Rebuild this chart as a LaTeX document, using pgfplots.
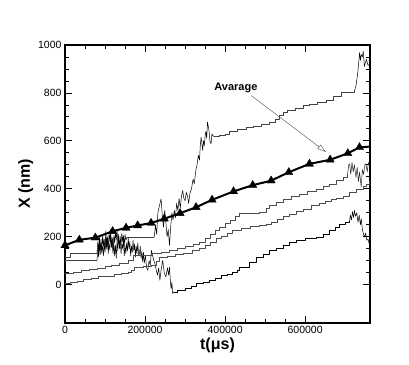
\documentclass[border=0pt]{standalone}
\usepackage{pgfplots}
\pgfplotsset{compat=1.18}
\usepackage{fontspec}
\setmainfont{Liberation Sans}
\usetikzlibrary{arrows.meta}
\begin{document}
\begin{tikzpicture}
\path[use as bounding box] (-65pt,-41pt) rectangle (344pt,323pt);
\begin{axis}[
  at={(0,0)}, anchor=south west,
  scale only axis, width=305pt, height=278pt,
  xmin=0, xmax=762000, ymin=-160, ymax=1000,
  xtick={0,200000,400000,600000},
  ytick={0,200,400,600,800,1000},
  minor x tick num=3, minor y tick num=3,
  scaled x ticks=false, scaled y ticks=false,
  /pgf/number format/fixed, /pgf/number format/1000 sep={},
  /pgf/number format/assume math mode=true,
  tick label style={font=\fontsize{10.5}{12}\selectfont},
  major tick length=7pt, minor tick length=4pt,
  axis line style={line width=1.2pt},
  tick style={line width=0.8pt, black},
  xlabel={\textbf{t(μs)}}, ylabel={\textbf{X (nm)}},
  label style={font=\fontsize{16}{19}\selectfont\bfseries},
  xlabel style={yshift=3pt},
  ylabel style={yshift=-2pt},
  clip=true,
  every axis plot/.append style={line join=round},
]
% ---------- Curve A (top) ----------
\addplot[const plot, black!75, line width=0.5pt] coordinates {(0,115)(12000,133)(80000,133)};
\addplot[sharp plot, black, line width=0.5pt] coordinates {
(80000,133)(82000,180)(84000,140)(86000,200)(88000,150)(90000,175)(92000,130)(94000,210)(96000,160)(98000,190)(100000,145)(102000,225)(104000,170)(106000,200)(108000,150)(110000,215)(112000,180)(114000,230)(116000,160)(118000,195)(120000,140)(122000,205)(124000,175)(126000,220)(128000,185)(130000,230)(132000,170)(134000,210)(136000,150)(138000,200)(140000,165)(142000,215)(144000,180)(146000,205)(148000,160)(150000,210)(152000,185)(155000,198)};
\addplot[const plot, black!75, line width=0.5pt] coordinates {(155000,198)(223000,198)};
\addplot[sharp plot, black, line width=0.5pt] coordinates {
(223000,198)(226000,250)(229000,210)(232000,300)(236000,330)(240000,358)(243000,290)(246000,240)(249000,310)(252000,260)(255000,200)(258000,230)(261000,164)(264000,240)(267000,300)(270000,270)(273000,310)(276000,280)(279000,340)(282000,310)(285000,360)(288000,320)(291000,370)(294000,393)(297000,360)(300000,350)(303000,385)(306000,370)(309000,339)(312000,380)(316000,400)(320000,440)(323000,421)(327000,480)(330000,500)(333000,540)(336000,520)(338000,580)(340000,615)(342000,590)(344000,560)(346000,600)(348000,580)(350000,620)(352000,640)(354000,610)(356000,678)(358000,660)(360000,640)(362000,600)(365000,588)(367000,630)(369000,622)(373000,618)};
\addplot[const plot, black!75, line width=0.5pt] coordinates {
(373000,618)(386000,622)(400000,628)(411000,640)(430000,648)(452000,657)(470000,662)(490000,668)(511000,678)(525000,690)(536000,705)(546000,718)(556000,729)(575000,738)(594000,747)(611000,754)(630000,760)(652000,768)(670000,785)(690000,802)(723000,807)};
\addplot[sharp plot, black, line width=0.5pt] coordinates {
(723000,807)(727000,830)(731000,879)(734000,930)(736000,969)(738000,935)(740000,960)(743000,950)(745000,975)(748000,910)(751000,930)(753000,940)(757000,915)(761000,920)};
% ---------- Curve B (dips below zero) ----------
\addplot[const plot, black!75, line width=0.5pt] coordinates {(0,101)(80000,101)};
\addplot[sharp plot, black, line width=0.5pt] coordinates {
(80000,101)(82000,150)(84000,115)(86000,170)(88000,125)(90000,190)(92000,140)(94000,160)(96000,120)(98000,175)(100000,135)(102000,200)(104000,150)(106000,185)(108000,130)(110000,170)(112000,145)(114000,210)(116000,155)(118000,190)(120000,130)(122000,175)(124000,120)(126000,165)(128000,110)(130000,180)(132000,140)(134000,200)(136000,160)(138000,185)(140000,130)(142000,170)(144000,150)(146000,190)(148000,120)(150000,160)(152000,129)(154000,175)(156000,140)(158000,195)(160000,150)(162000,180)(164000,120)(166000,160)(168000,135)(170000,185)(172000,140)(174000,170)(176000,115)(178000,160)(180000,130)(182000,175)(184000,120)(186000,129)(188000,160)(190000,110)(192000,140)(194000,95)(196000,135)(198000,90)(201000,120)(204000,70)(207000,60)(210000,100)(213000,80)(216000,143)(219000,120)(222000,100)(225000,87)(228000,60)(231000,40)(234000,70)(237000,18)(240000,60)(244000,101)(248000,50)(252000,32)(256000,70)(259000,40)(261000,73)(263000,20)(265000,-17)(267000,10)(269000,-37)(272000,-30)};
\addplot[const plot, black, line width=0.5pt] coordinates {
(272000,-30)(281000,-24)(300000,-15)(315000,-5)(327000,4)(345000,10)(361000,18)(375000,28)(390000,39)(405000,45)(419000,52)(430000,62)(436000,73)(460000,94)(477000,115)(495000,128)(511000,143)(528000,153)(544000,164)(560000,175)(577000,185)(600000,192)(627000,198)(645000,212)(661000,226)(675000,240)(686000,254)(700000,260)(711000,265)};
\addplot[sharp plot, black, line width=0.5pt] coordinates {
(711000,265)(713000,290)(716000,270)(718000,305)(721000,280)(723000,310)(726000,285)(729000,300)(732000,260)(735000,290)(738000,250)(740000,275)(743000,230)(746000,210)(748000,198)(751000,215)(754000,185)(757000,190)(761000,164)};
% ---------- Curve C ----------
\addplot[const plot, black!70, line width=0.5pt] coordinates {
(0,46)(20000,50)(40000,59)(60000,64)(80000,70)(100000,75)(116000,80)(135000,90)(157000,101)(170000,122)(216000,129)(240000,136)(261000,143)(280000,152)(300000,160)(320000,170)(336000,178)(350000,195)(362000,212)(375000,228)(386000,240)(400000,255)(412000,270)(425000,285)(436000,296)(460000,300)(486000,303)(502000,317)(511000,330)(528000,345)(544000,358)(565000,368)(586000,379)(605000,390)(627000,400)(645000,410)(661000,421)(677000,434)(694000,450)(706000,462)};
\addplot[sharp plot, black!85, line width=0.5pt] coordinates {
(706000,462)(709000,500)(711000,504)(714000,460)(717000,510)(720000,470)(723000,500)(727000,448)(730000,490)(733000,430)(736000,470)(740000,407)(743000,480)(746000,460)(749000,500)(752000,504)(755000,470)(758000,510)(761000,500)};
% ---------- Curve D ----------
\addplot[const plot, black!70, line width=0.5pt] coordinates {
(0,5)(12000,11)(30000,16)(45000,22)(65000,27)(82000,33)(100000,37)(124000,43)(140000,47)(157000,52)(165000,62)(172000,73)(195000,76)(216000,80)(228000,98)(236000,115)(255000,120)(275000,127)(295000,133)(319000,143)(335000,152)(350000,165)(362000,178)(377000,192)(390000,202)(405000,214)(419000,226)(440000,235)(462000,244)(486000,248)(502000,250)(515000,260)(530000,275)(545000,285)(561000,295)(578000,305)(594000,315)(615000,330)(636000,340)(650000,350)(664000,357)(677000,362)(695000,370)(711000,385)(728000,398)(744000,410)(752000,420)(761000,434)};
% ---------- Average ----------
\addplot[black, line width=2pt, mark=triangle*, mark size=4.8pt, mark options={solid, line width=0.3pt},
  mark indices={1,2,3,4,5,6,7,8,9,10,11,12,13,14,15,16,17,18,19}] coordinates {
(0,164)(35750,187)(75750,196)(119000,223)(152500,237)(181500,247)(215000,257)(248000,275)(287500,298)(327500,323)(367500,354)(421000,389)(469000,415)(515000,434)(559000,469)(610750,504)(662500,521)(706500,548)(735750,573)(761000,576)};
\node[font=\fontsize{11}{13}\selectfont\bfseries] at (axis cs:427000,823) {Avarage};
\draw[black!60, line width=0.5pt, -{Triangle[open,length=9pt,width=5pt]}] (axis cs:465000,789) -- (axis cs:652500,553);
\end{axis}
\end{tikzpicture}
\end{document}
